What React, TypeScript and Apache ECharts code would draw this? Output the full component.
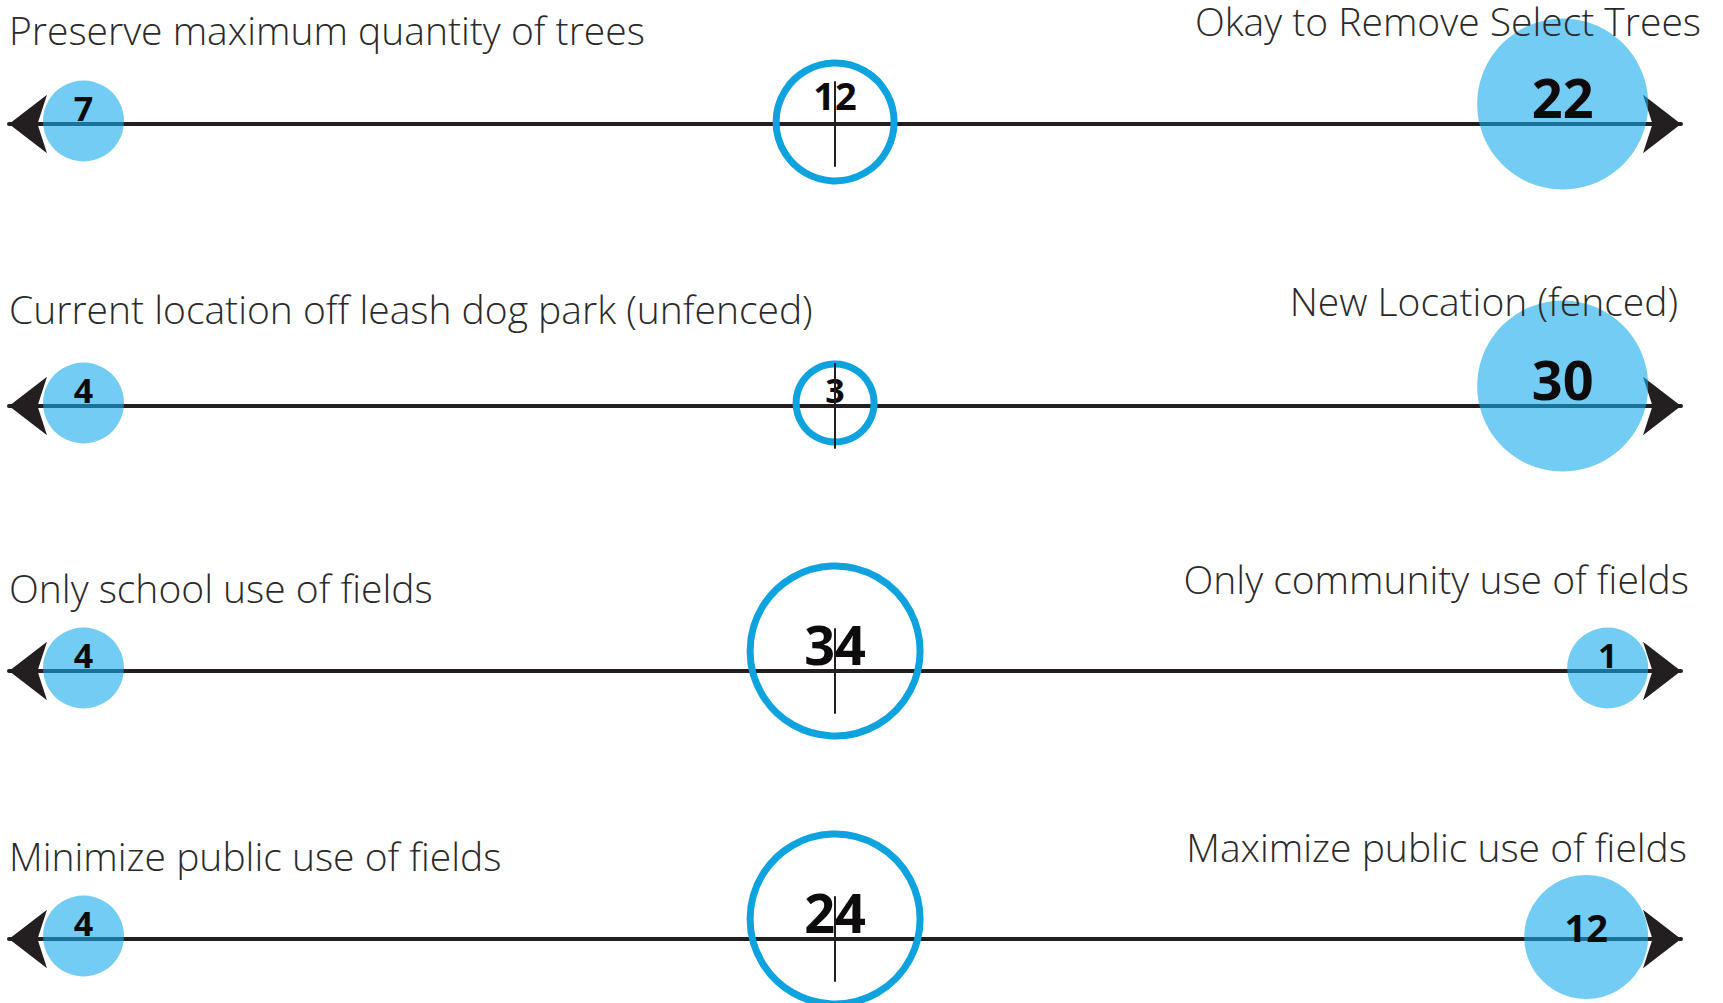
import React, { useEffect, useRef } from "react";
import * as echarts from "echarts";

// ---- data ----
const leftLabels = [
  "Preserve maximum quantity of trees",
  "Current location off leash dog park (unfenced)",
  "Only school use of fields",
  "Minimize public use of fields",
];
const rightLabels = [
  "Okay to Remove Select Trees",
  "New Location (fenced)",
  "Only community use of fields",
  "Maximize public use of fields",
];
const scalePositions = [-1, 0, 1]; // left end, neutral, right end
const leftCounts = [7, 4, 4, 4];
const neutralCounts = [12, 3, 34, 24];
const rightCounts = [22, 30, 1, 12];

// ---- layout / style ----
const LINE_Y = [124, 406, 671, 939];
const LEFT_LABEL_Y = [29, 308, 587, 855];
const RIGHT_LABEL_Y = [20, 300, 578, 846];
const RIGHT_LABEL_X = [1701, 1678, 1689, 1687];
const AXIS_LEFT = 9;
const AXIS_RIGHT = 42;
const AXIS_MAX = 1.024; // neutral tick sits slightly left of the middle
const GRID_HALF = 42;
const SIZES = [81, 124, 171];
const RING_SIZES = [78, 118, 170];
const FONTS = [34, 38, 54];
const CIRCLE_DY = [-3, -2, -20];
// label centre relative to the line: [end, neutral]
const LABEL_FROM_LINE = [
  [-16, -16],
  [-12, -29],
  [-27, -27],
];
const END_GAP = [34, 13]; // inward gap from left / right axis end
const INK = "#0d0b0c";
const FILL = "rgba(20,170,235,0.6)";
const RING = "#0ea3df";
const FONT = "'Open Sans', 'Noto Sans', sans-serif";
const LABEL_FONT_SIZE = 39;

const sizeClass = (v: number) => (v >= 20 ? 2 : v >= 10 ? 1 : 0);

export default function App() {
  const ref = useRef<HTMLDivElement>(null);

  useEffect(() => {
    if (!ref.current) return;
    const chart = echarts.init(ref.current, undefined, { renderer: "svg" });
    const counts = [leftCounts, neutralCounts, rightCounts];

    const grids: any[] = [];
    const xAxes: any[] = [];
    const yAxes: any[] = [];
    const series: any[] = [];
    const graphics: any[] = [];

    LINE_Y.forEach((ly, i) => {
      grids.push({
        left: AXIS_LEFT,
        right: AXIS_RIGHT,
        top: ly - GRID_HALF,
        height: GRID_HALF * 2,
        containLabel: false,
      });
      xAxes.push({
        gridIndex: i,
        type: "value",
        min: -1,
        max: AXIS_MAX,
        z: 0,
        axisLine: {
          show: true,
          onZero: true,
          symbol: ["arrow", "arrow"],
          symbolSize: [44, 38],
          lineStyle: { color: "#231f20", width: 4 },
        },
        axisTick: { show: false },
        axisLabel: { show: false },
        splitLine: { show: false },
      });
      yAxes.push({
        gridIndex: i,
        type: "value",
        min: -1,
        max: 1,
        z: 10,
        axisLine: { show: true, onZero: true, lineStyle: { color: "#231f20", width: 2 } },
        axisTick: { show: false },
        axisLabel: { show: false },
        splitLine: { show: false },
      });

      const data = scalePositions.map((pos, j) => {
        const v = counts[j][i];
        const c = sizeClass(v);
        const r = SIZES[c] / 2;
        const dx = j === 0 ? r + END_GAP[0] : j === 2 ? -(r + END_GAP[1]) : 0;
        const filled = j !== 1;
        const labelDy = LABEL_FROM_LINE[c][filled ? 0 : 1] - CIRCLE_DY[c];
        return {
          value: [pos, 0, v],
          symbolSize: filled ? SIZES[c] : RING_SIZES[c],
          symbolOffset: [dx, CIRCLE_DY[c]],
          itemStyle: filled
            ? { color: FILL, borderWidth: 0, opacity: 1 }
            : { color: "rgba(0,0,0,0)", borderColor: RING, borderWidth: 7, opacity: 1 },
          label: {
            show: true,
            position: "inside",
            offset: [0, labelDy],
            fontSize: FONTS[c],
            fontWeight: "bold",
            fontFamily: FONT,
            color: INK,
            opacity: 1,
            textBorderWidth: 0,
          },
        };
      });

      series.push({
        type: "scatter",
        xAxisIndex: i,
        yAxisIndex: i,
        symbol: "circle",
        clip: false,
        z: 2,
        silent: true,
        label: {
          show: true,
          formatter: (p: any) => String(p.value[2]),
        },
        data,
      });

      graphics.push({
        type: "text",
        x: 9,
        y: LEFT_LABEL_Y[i],
        z: 100,
        style: {
          text: leftLabels[i],
          fontSize: LABEL_FONT_SIZE,
          lineHeight: 32,
          fontFamily: FONT,
          fontWeight: 300,
          fill: "#2a2a2a",
          textAlign: "left",
          textVerticalAlign: "middle",
        },
      });
      graphics.push({
        type: "text",
        x: RIGHT_LABEL_X[i],
        y: RIGHT_LABEL_Y[i],
        z: 100,
        style: {
          text: rightLabels[i],
          fontSize: LABEL_FONT_SIZE,
          lineHeight: 32,
          fontFamily: FONT,
          fontWeight: 300,
          fill: "#2a2a2a",
          textAlign: "right",
          textVerticalAlign: "middle",
        },
      });
    });

    chart.setOption({
      animation: false,
      backgroundColor: "#ffffff",
      textStyle: { fontFamily: FONT },
      grid: grids,
      xAxis: xAxes,
      yAxis: yAxes,
      series,
      graphic: graphics,
    });

    return () => chart.dispose();
  }, []);

  return (
    <div
      ref={ref}
      style={{ position: "fixed", left: 0, top: 0, width: 1723, height: 1003, background: "#fff" }}
    />
  );
}
